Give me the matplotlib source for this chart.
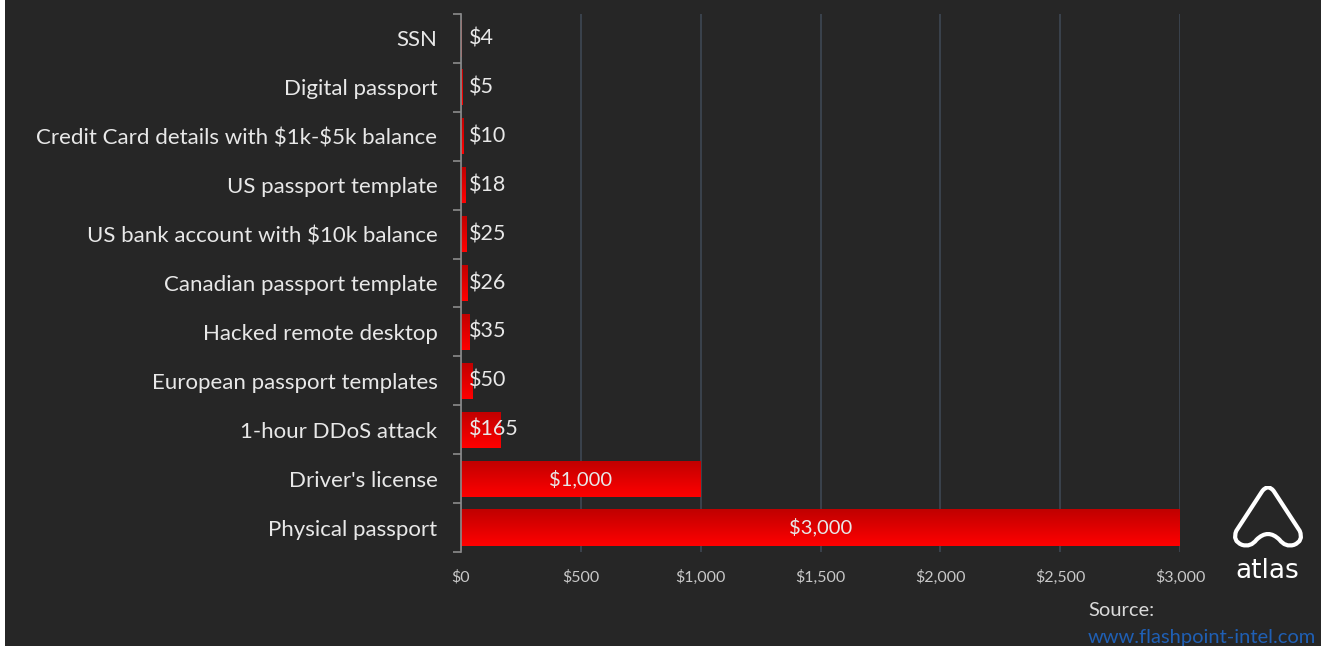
import matplotlib
matplotlib.use("Agg")
import matplotlib.pyplot as plt
import numpy as np
from matplotlib.colors import LinearSegmentedColormap
from matplotlib.path import Path
from matplotlib.patches import PathPatch, Rectangle

plt.rcParams['text.parse_math'] = False

categories = ['SSN', 'Digital passport', 'Credit Card details with $1k-$5k balance',
              'US passport template', 'US bank account with $10k balance',
              'Canadian passport template', 'Hacked remote desktop',
              'European passport templates', '1-hour DDoS attack',
              "Driver's license", 'Physical passport']
prices = [4, 5, 10, 18, 25, 26, 35, 50, 165, 1000, 3000]
xticks = [0, 500, 1000, 1500, 2000, 2500, 3000]
xtick_labels = ['$0', '$500', '$1,000', '$1,500', '$2,000', '$2,500', '$3,000']

BG = '#262626'
FONT = 'Lato'

W, H = 1321, 646
fig = plt.figure(figsize=(W / 100, H / 100), dpi=100, facecolor=BG)
# white strip on the left edge of the screenshot
fig.patches.append(Rectangle((0, 0), 5 / W, 1, transform=fig.transFigure,
                             facecolor='white', edgecolor='none', zorder=10))

ax = fig.add_axes([461 / W, 1 - 552 / H, (1180 - 461) / W, (552 - 14) / H])
ax.set_facecolor(BG)

n = len(categories)
ypos = np.arange(n)[::-1]
bar_h = 0.74
grad = LinearSegmentedColormap.from_list('redgrad', ['#ff0000', '#c00000'])
gradient = np.linspace(0, 1, 64).reshape(-1, 1)

bars = ax.barh(ypos, prices, height=bar_h, color='#e00000', edgecolor='none', zorder=2)
for b, v, y in zip(bars, prices, ypos):
    im = ax.imshow(gradient, cmap=grad, aspect='auto', origin='lower',
                   extent=[0, v, y - bar_h / 2, y + bar_h / 2], zorder=3)
    im.set_clip_path(b)
    if v >= 1000:
        ax.text(v / 2, y, f'${v:,}', ha='center', va='center', color='#e8e8e8',
                fontsize=14.5, family=FONT, zorder=4)
    else:
        ax.annotate(f'${v:,}', (0, y), xytext=(6, 0), textcoords='offset points',
                    ha='left', va='center', color='#e8e8e8', fontsize=15.5,
                    family=FONT, zorder=4)

ax.set_xlim(0, 3000)
ax.set_ylim(-0.5, n - 0.5)
ax.set_xticks(xticks)
ax.set_xticklabels(xtick_labels, family=FONT, fontsize=11.5, color='#c8c8c8')
ax.tick_params(axis='x', length=0, pad=13)
ax.set_yticks(ypos)
ax.set_yticklabels(categories, family=FONT, fontsize=16, color='#e8e8e8')
ax.tick_params(axis='y', which='major', length=0, pad=17)
ax.set_yticks(np.arange(-0.5, n, 1), minor=True)
ax.tick_params(axis='y', which='minor', length=6, width=1.2, color='#8c8c8c', direction='out')

ax.grid(axis='x', color='#3e4753', linewidth=1.2, zorder=0)
ax.set_axisbelow(True)
for s in ['top', 'right', 'bottom']:
    ax.spines[s].set_visible(False)
ax.spines['left'].set_color('#8c8c8c')
ax.spines['left'].set_linewidth(1.2)
ax.spines['left'].set_zorder(5)

# atlas logo
lax = fig.add_axes([1232 / W, 1 - 550 / H, 72 / W, 64 / H])
lax.set_xlim(0, 100)
lax.set_ylim(0, 100)
lax.axis('off')
verts = [(42, 92), (50, 104), (58, 92),
         (94, 30), (100, 14), (86, 8),
         (74, 4), (66, 16),
         (50, 34), (34, 16),
         (26, 4), (14, 8),
         (0, 14), (6, 30),
         (42, 92), (0, 0)]
codes = [Path.MOVETO, Path.CURVE3, Path.CURVE3,
         Path.LINETO, Path.CURVE3, Path.CURVE3,
         Path.CURVE3, Path.CURVE3,
         Path.CURVE3, Path.CURVE3,
         Path.CURVE3, Path.CURVE3,
         Path.CURVE3, Path.CURVE3,
         Path.LINETO, Path.CLOSEPOLY]
lax.add_patch(PathPatch(Path(verts, codes), facecolor='none', edgecolor='white',
                        linewidth=3, joinstyle='round'))
fig.text(1267 / W, 1 - 571 / H, 'atlas', ha='center', va='center', color='white',
         fontsize=19, family='DejaVu Sans')

fig.text(1088 / W, 1 - 611 / H, 'Source:', ha='left', va='center', color='#d9d9d9',
         fontsize=14.5, family=FONT)
fig.text(1088 / W, 1 - 638 / H, 'www.flashpoint-intel.com', ha='left', va='center',
         color='#1f5fb4', fontsize=14.5, family=FONT)

fig.savefig('out.png', dpi=100, facecolor=BG)
